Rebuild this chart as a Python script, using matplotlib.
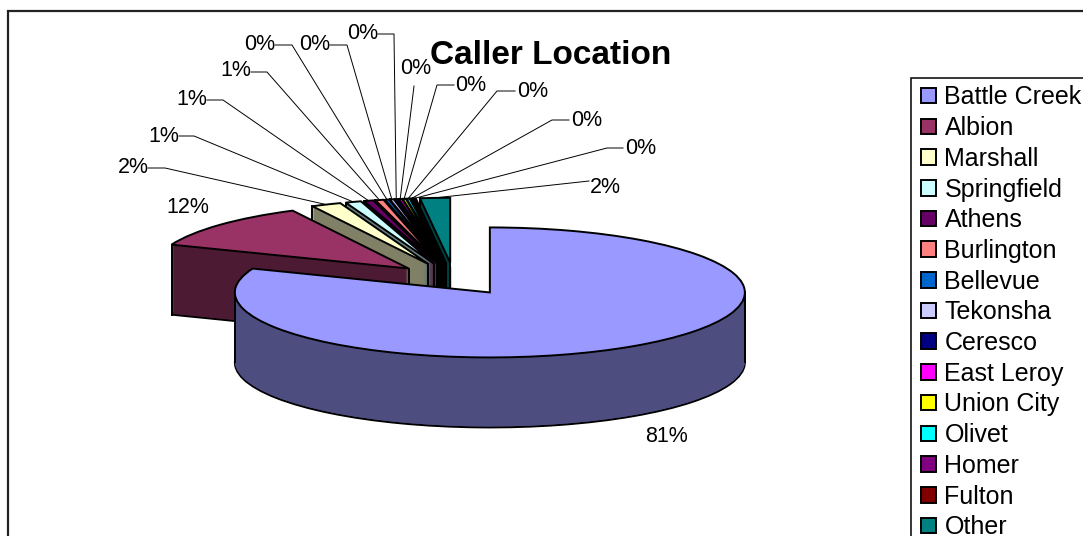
import matplotlib
matplotlib.use("Agg")
import numpy as np
import matplotlib.pyplot as plt
from matplotlib.patches import Wedge, Rectangle

# data
locations = ["Battle Creek", "Albion", "Marshall", "Springfield", "Athens", "Burlington",
             "Bellevue", "Tekonsha", "Ceresco", "East Leroy", "Union City", "Olivet",
             "Homer", "Fulton", "Other"]
shares = [81.0, 11.5, 1.9, 1.0, 0.6, 0.52, 0.25, 0.25, 0.2, 0.2, 0.2, 0.2, 0.15, 0.15, 1.9]
slice_colors = ["#9999FF", "#993366", "#FFFFCC", "#CCFFFF", "#660066", "#FF8080", "#0066CC",
                "#CCCCFF", "#000080", "#FF00FF", "#FFFF00", "#00FFFF", "#800080", "#800000",
                "#008080"]
title = "Caller Location"

W, H = 1083, 536
CX, CY = 454, 279      # pie centre in pixels
RX, RY = 255, 65       # top face radii in pixels
DEPTH = 70 / RY        # wall height in y units
EXPLODE = [0.25, 0.24] + [0.25] * 13

plt.rcParams["font.family"] = ["Liberation Sans", "DejaVu Sans"]

fig = plt.figure(figsize=(W / 100, H / 100), dpi=100)
ax = fig.add_axes([0, 0, 1, 1])


def px(x, y):
    # picture pixels to data units
    return (x - CX) / RX, (CY - y) / RY


def rim(w, deg):
    a = np.radians(deg)
    return w.center[0] + w.r * np.cos(a), w.center[1] + w.r * np.sin(a)


wedges, _ = ax.pie(shares, colors=slice_colors, startangle=90, counterclock=False,
                   explode=EXPLODE, wedgeprops={"edgecolor": "black", "linewidth": 1.4})
ax.set_aspect("auto")
ax.set_xlim(px(0, 0)[0], px(W, 0)[0])
ax.set_ylim(px(0, H)[1], px(0, 0)[1])
ax.axis("off")

# walls, back slices first
z = 2
for w in reversed(wedges):
    wall = tuple(c * 0.5 for c in w.get_facecolor()[:3])
    x0, y0 = w.center
    z += 1
    for d in np.linspace(DEPTH, 0, 71):
        edge = "black" if d == DEPTH else "none"
        ax.add_patch(Wedge((x0, y0 - d), w.r, w.theta1, w.theta2, facecolor=wall,
                           edgecolor=edge, linewidth=1.4, zorder=z))
    if w is wedges[0]:
        # big slice only shows its outer silhouette
        corners = [rim(w, 0), rim(w, 180)]
    else:
        corners = [w.center, rim(w, w.theta2)]
    for cx_, cy_ in corners:
        ax.plot([cx_, cx_], [cy_, cy_ - DEPTH], color="black", lw=1.4, zorder=z)
    w.set_zorder(z + 0.5)
    z += 1

# percent labels and their leader lines, in pixels
label_pos = [(666, 437), (188, 208), (133, 168), (164, 137), (192, 100), (236, 71), (260, 45),
             (315, 45), (363, 34), (416, 69), (471, 86), (533, 92), (587, 121), (641, 149),
             (605, 188)]
elbows = [None, None, [(148, 168), (165, 168)], [(179, 136), (194, 136)], [(207, 100), (223, 100)],
          [(251, 72), (267, 72)], [(275, 45), (292, 45)], [(330, 45), (347, 45)],
          [(378, 34), (394, 34)], [(414, 86)], [(454, 85), (437, 85)], [(515, 91), (497, 91)],
          [(569, 120), (552, 120)], [(623, 148), (607, 148)], [(589, 181)]]

for w, v, pos, elbow in zip(wedges, shares, label_pos, elbows):
    ax.text(*px(*pos), f"{v:.0f}%", ha="center", va="center", fontsize=15.5, zorder=60)
    if elbow:
        pts = [px(*p) for p in elbow] + [rim(w, (w.theta1 + w.theta2) / 2)]
        ax.plot([p[0] for p in pts], [p[1] for p in pts], color="black", lw=0.7, zorder=1)

ax.text(*px(551, 56), title, ha="center", va="center", fontsize=24, fontweight="bold", zorder=60)

# chart area outline, runs off the picture on the right and bottom
ax.add_patch(Rectangle((7.5 / W, -0.1), 1.0, 1.1 - 11.5 / H, transform=ax.transAxes, fill=False,
                       edgecolor="#222222", lw=1.6, clip_on=False, zorder=0))
ax.add_patch(Rectangle((910.5 / W, -0.1), 1.0, 1.1 - 78.5 / H, transform=ax.transAxes, facecolor="white",
                       edgecolor="black", lw=1.1, clip_on=False, zorder=45))

leg = ax.legend(wedges, locations, loc="upper left", bbox_to_anchor=(921 / W, 1 - 85.5 / H),
                bbox_transform=ax.transAxes, fontsize=18, frameon=False,
                handlelength=0.58, handleheight=0.58, handletextpad=0.36, labelspacing=0.268,
                borderpad=0, borderaxespad=0)
leg.set_zorder(50)

fig.savefig("out.png", dpi=100)
